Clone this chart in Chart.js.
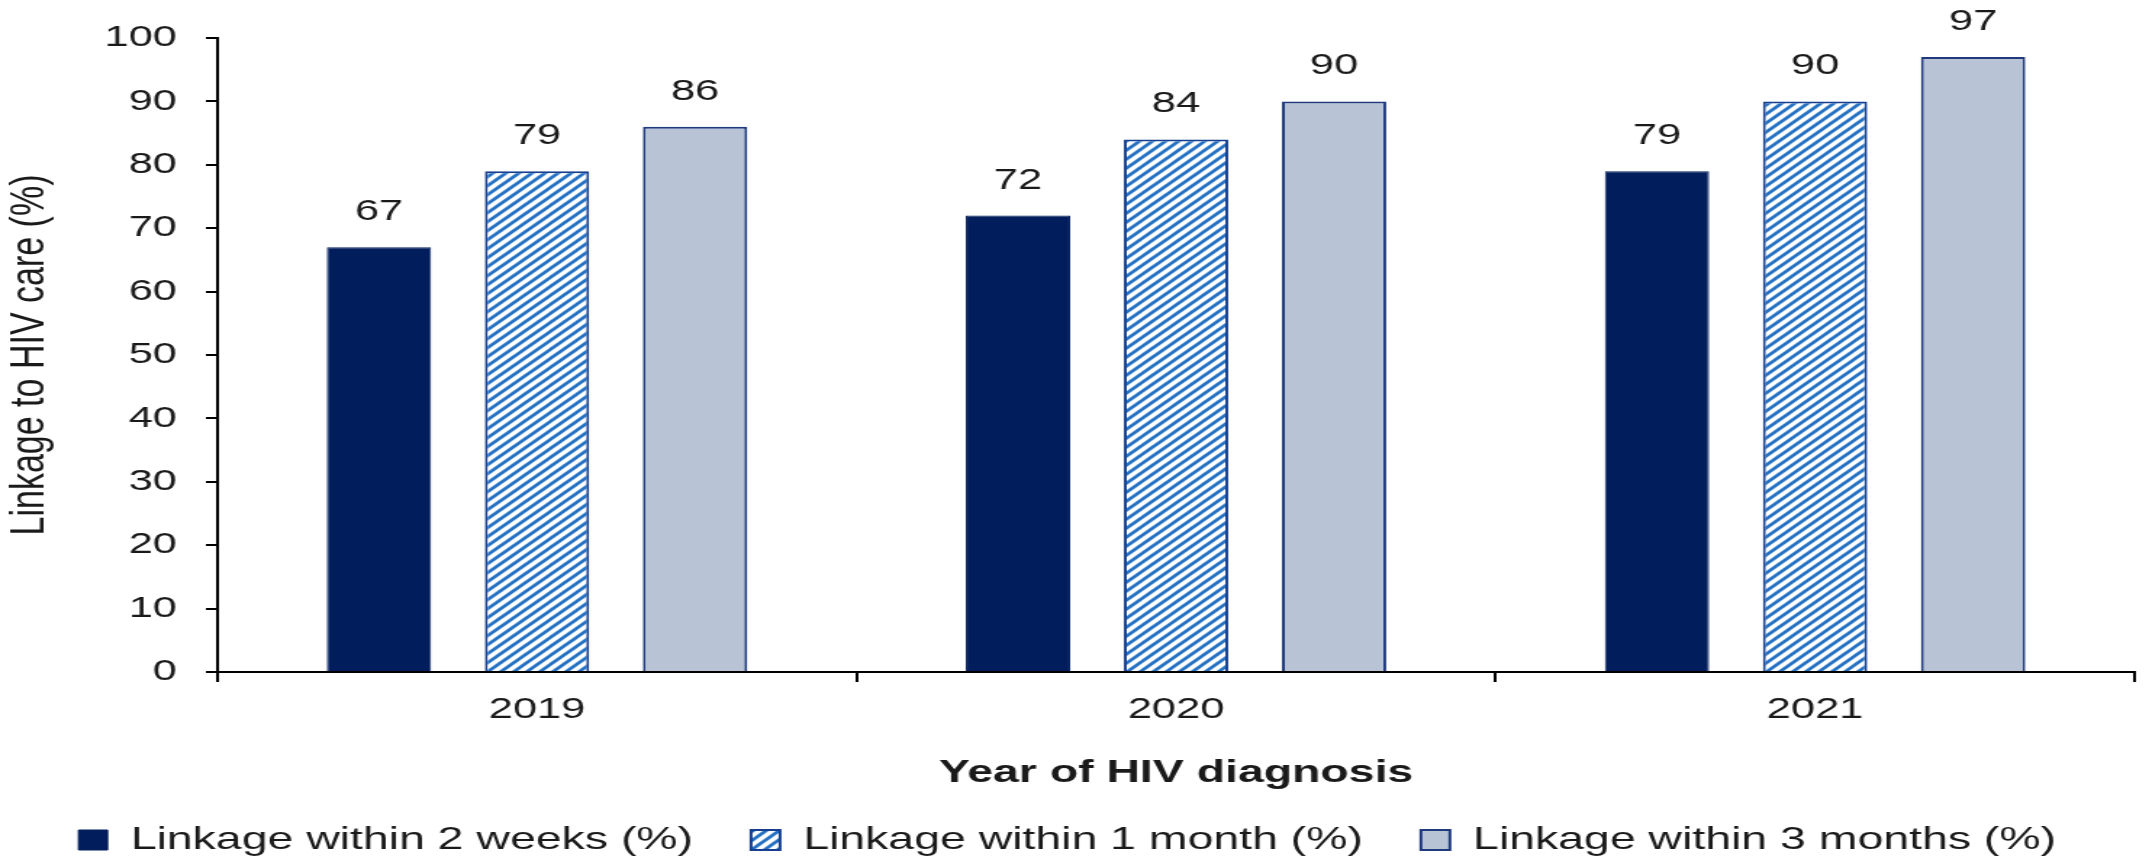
<!DOCTYPE html>
<html>
<head>
<meta charset="utf-8">
<title>Linkage to HIV care</title>
<script src="https://cdn.jsdelivr.net/npm/chart.js@4.4.1/dist/chart.umd.min.js"></script>
<style>
  html, body { margin: 0; padding: 0; background: #fff; overflow: hidden; }
  /* the source figure is stretched sideways, so the chart is drawn narrower and scaled */
  #chart { display: block; transform: scaleX(1.4501); transform-origin: 0 0; }
</style>
</head>
<body>
<canvas id="chart" width="1482" height="860"></canvas>
<script>
const years = ['2019', '2020', '2021'];
const within2Weeks = [67, 72, 79];
const within1Month = [79, 84, 90];
const within3Months = [86, 90, 97];
const seriesNames = ['Linkage within 2 weeks (%)', 'Linkage within 1 month (%)', 'Linkage within 3 months (%)'];
const yMin = 0, yMax = 100, yStep = 10;

const FONT = '"Liberation Sans", Arial, Helvetica, sans-serif';
const INK = '#1a1a1a';

function hatchPattern() {
  const s = 9;
  const c = document.createElement('canvas');
  c.width = s; c.height = s;
  const g = c.getContext('2d');
  g.fillStyle = '#fff';
  g.fillRect(0, 0, s, s);
  g.strokeStyle = '#2572c4';
  g.lineWidth = 2.8;
  g.beginPath();
  g.moveTo(-1, s + 1); g.lineTo(s + 1, -1);
  g.moveTo(-s / 2 - 1, s / 2 + 1); g.lineTo(s / 2 + 1, -s / 2 - 1);
  g.moveTo(s / 2 - 1, s * 1.5 + 1); g.lineTo(s * 1.5 + 1, s / 2 - 1);
  g.stroke();
  return g.createPattern(c, 'repeat');
}

// numbers above each bar
const valueLabels = {
  id: 'valueLabels',
  afterDatasetsDraw(chart) {
    const ctx = chart.ctx;
    ctx.save();
    ctx.font = '30px ' + FONT;
    ctx.fillStyle = INK;
    ctx.textAlign = 'center';
    ctx.textBaseline = 'alphabetic';
    chart.data.datasets.forEach((ds, i) => {
      chart.getDatasetMeta(i).data.forEach((bar, j) => {
        ctx.fillText(ds.data[j], bar.x, bar.y - 27);
      });
    });
    ctx.restore();
  }
};

const ctx = document.getElementById('chart').getContext('2d');
new Chart(ctx, {
  type: 'bar',
  data: {
    labels: years,
    datasets: [
      { label: seriesNames[0], data: within2Weeks, backgroundColor: '#021d5b', borderColor: '#021d5b', borderWidth: 1 },
      { label: seriesNames[1], data: within1Month, backgroundColor: hatchPattern(), borderColor: '#163f8f', borderWidth: 2 },
      { label: seriesNames[2], data: within3Months, backgroundColor: '#b9c3d6', borderColor: '#1f3a7d', borderWidth: 2 },
    ],
  },
  options: {
    responsive: false,
    animation: false,
    devicePixelRatio: 1,
    categoryPercentage: 0.742,
    barPercentage: 0.66,
    layout: { padding: { top: 33, right: 10, bottom: 0, left: 0 } },
    plugins: {
      tooltip: { enabled: false },
      legend: {
        position: 'bottom',
        maxHeight: 76,
        labels: {
          font: { size: 32, family: FONT },
          color: INK,
          boxWidth: 20,
          boxHeight: 20,
          padding: 40,
        },
      },
    },
    scales: {
      x: {
        afterFit: s => { s.height = 112; },
        grid: { display: true, drawOnChartArea: false, drawTicks: true, tickLength: 10, color: '#000', lineWidth: 2, offset: true },
        border: { color: '#000', width: 2 },
        ticks: { font: { size: 30, family: FONT }, color: INK, padding: 10 },
        title: {
          display: true, text: 'Year of HIV diagnosis', color: INK,
          font: { size: 32, weight: 'bold', family: FONT },
          padding: { top: 0, bottom: -8 },
        },
      },
      y: {
        min: yMin,
        max: yMax,
        afterFit: s => { s.width = 150; },
        grid: { display: true, drawOnChartArea: false, drawTicks: true, tickLength: 8, color: '#000', lineWidth: 2 },
        border: { color: '#000', width: 2 },
        ticks: { stepSize: yStep, font: { size: 30, family: FONT }, color: INK, padding: 20 },
        title: { display: true, text: 'Linkage to HIV care (%)', font: { size: 34, family: FONT }, color: INK, padding: 0 },
      },
    },
  },
  plugins: [valueLabels],
});
</script>
</body>
</html>
